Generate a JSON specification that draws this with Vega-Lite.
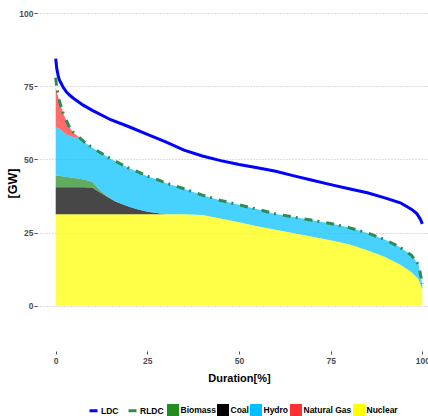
{
  "$schema": "https://vega.github.io/schema/vega-lite/v6.json",
  "width": 391,
  "height": 341,
  "autosize": {"type": "none"},
  "padding": {"left": 37, "top": 10, "right": 0, "bottom": 65},
  "background": "white",
  "config": {
    "view": {"stroke": null},
    "font": "Liberation Sans",
    "axis": {
      "domain": false,
      "labelFont": "Liberation Sans",
      "labelFontWeight": "bold",
      "labelFontSize": 8.5,
      "labelColor": "#4d4d4d",
      "tickColor": "#4d4d4d",
      "tickSize": 3,
      "titleFont": "Liberation Sans",
      "titleFontWeight": "bold",
      "titleColor": "black"
    },
    "legend": {
      "labelFont": "Liberation Sans",
      "labelFontWeight": "bold",
      "labelFontSize": 8.5,
      "labelColor": "black"
    }
  },
  "datasets": {
    "gen": [
      {"x": 0, "Nuclear": 31.3, "Coal": 9.2, "Biomass": 4.0, "Hydro": 16.5, "Natural Gas": 13.5},
      {"x": 1, "Nuclear": 31.3, "Coal": 9.2, "Biomass": 3.9, "Hydro": 16.1, "Natural Gas": 9.5},
      {"x": 2, "Nuclear": 31.3, "Coal": 9.2, "Biomass": 3.7, "Hydro": 15.3, "Natural Gas": 6.5},
      {"x": 3, "Nuclear": 31.3, "Coal": 9.2, "Biomass": 3.5, "Hydro": 14.5, "Natural Gas": 4.5},
      {"x": 4, "Nuclear": 31.3, "Coal": 9.2, "Biomass": 3.3, "Hydro": 14.2, "Natural Gas": 2.5},
      {"x": 5, "Nuclear": 31.3, "Coal": 9.2, "Biomass": 3.2, "Hydro": 13.8, "Natural Gas": 1.5},
      {"x": 6, "Nuclear": 31.3, "Coal": 9.2, "Biomass": 3.0, "Hydro": 14.0, "Natural Gas": 0.5},
      {"x": 8, "Nuclear": 31.3, "Coal": 9.2, "Biomass": 2.6, "Hydro": 12.7, "Natural Gas": 0},
      {"x": 10, "Nuclear": 31.3, "Coal": 9.0, "Biomass": 2.0, "Hydro": 11.7, "Natural Gas": 0},
      {"x": 12, "Nuclear": 31.3, "Coal": 7.5, "Biomass": 0.8, "Hydro": 12.9, "Natural Gas": 0},
      {"x": 14, "Nuclear": 31.3, "Coal": 6.0, "Biomass": 0.2, "Hydro": 13.5, "Natural Gas": 0},
      {"x": 16, "Nuclear": 31.3, "Coal": 4.5, "Biomass": 0, "Hydro": 13.8, "Natural Gas": 0},
      {"x": 18, "Nuclear": 31.3, "Coal": 3.5, "Biomass": 0, "Hydro": 13.5, "Natural Gas": 0},
      {"x": 20, "Nuclear": 31.3, "Coal": 2.5, "Biomass": 0, "Hydro": 13.2, "Natural Gas": 0},
      {"x": 22, "Nuclear": 31.3, "Coal": 1.8, "Biomass": 0, "Hydro": 12.9, "Natural Gas": 0},
      {"x": 25, "Nuclear": 31.3, "Coal": 0.8, "Biomass": 0, "Hydro": 12.2, "Natural Gas": 0},
      {"x": 28, "Nuclear": 31.3, "Coal": 0.3, "Biomass": 0, "Hydro": 11.4, "Natural Gas": 0},
      {"x": 30, "Nuclear": 31.3, "Coal": 0, "Biomass": 0, "Hydro": 10.7, "Natural Gas": 0},
      {"x": 35, "Nuclear": 31.3, "Coal": 0, "Biomass": 0, "Hydro": 8.7, "Natural Gas": 0},
      {"x": 40, "Nuclear": 31.0, "Coal": 0, "Biomass": 0, "Hydro": 6.8, "Natural Gas": 0},
      {"x": 45, "Nuclear": 29.8, "Coal": 0, "Biomass": 0, "Hydro": 6.2, "Natural Gas": 0},
      {"x": 50, "Nuclear": 28.5, "Coal": 0, "Biomass": 0, "Hydro": 6.0, "Natural Gas": 0},
      {"x": 55, "Nuclear": 27.2, "Coal": 0, "Biomass": 0, "Hydro": 5.8, "Natural Gas": 0},
      {"x": 60, "Nuclear": 26.0, "Coal": 0, "Biomass": 0, "Hydro": 5.4, "Natural Gas": 0},
      {"x": 65, "Nuclear": 24.8, "Coal": 0, "Biomass": 0, "Hydro": 5.5, "Natural Gas": 0},
      {"x": 70, "Nuclear": 23.6, "Coal": 0, "Biomass": 0, "Hydro": 5.6, "Natural Gas": 0},
      {"x": 75, "Nuclear": 22.4, "Coal": 0, "Biomass": 0, "Hydro": 5.7, "Natural Gas": 0},
      {"x": 80, "Nuclear": 21.0, "Coal": 0, "Biomass": 0, "Hydro": 5.7, "Natural Gas": 0},
      {"x": 85, "Nuclear": 19.0, "Coal": 0, "Biomass": 0, "Hydro": 5.9, "Natural Gas": 0},
      {"x": 90, "Nuclear": 16.6, "Coal": 0, "Biomass": 0, "Hydro": 5.9, "Natural Gas": 0},
      {"x": 94, "Nuclear": 14.0, "Coal": 0, "Biomass": 0, "Hydro": 5.9, "Natural Gas": 0},
      {"x": 97, "Nuclear": 11.5, "Coal": 0, "Biomass": 0, "Hydro": 5.8, "Natural Gas": 0},
      {"x": 99, "Nuclear": 9.0, "Coal": 0, "Biomass": 0, "Hydro": 5.0, "Natural Gas": 0},
      {"x": 100, "Nuclear": 5.5, "Coal": 0, "Biomass": 0, "Hydro": 1.5, "Natural Gas": 0}
    ],
    "ldc": [
      {"s": "LDC", "x": 0, "gw": 84.5}, {"s": "LDC", "x": 0.3, "gw": 81}, {"s": "LDC", "x": 0.7, "gw": 78.5},
      {"s": "LDC", "x": 1, "gw": 77.2}, {"s": "LDC", "x": 2, "gw": 74.8}, {"s": "LDC", "x": 3, "gw": 73},
      {"s": "LDC", "x": 4, "gw": 71.8}, {"s": "LDC", "x": 5, "gw": 70.8}, {"s": "LDC", "x": 7.5, "gw": 68.6},
      {"s": "LDC", "x": 10, "gw": 66.8}, {"s": "LDC", "x": 15, "gw": 63.6}, {"s": "LDC", "x": 20, "gw": 61.2},
      {"s": "LDC", "x": 25, "gw": 58.6}, {"s": "LDC", "x": 30, "gw": 56}, {"s": "LDC", "x": 35, "gw": 53.2},
      {"s": "LDC", "x": 40, "gw": 51.2}, {"s": "LDC", "x": 45, "gw": 49.6}, {"s": "LDC", "x": 50, "gw": 48.3},
      {"s": "LDC", "x": 55, "gw": 47.2}, {"s": "LDC", "x": 60, "gw": 46}, {"s": "LDC", "x": 65, "gw": 44.4},
      {"s": "LDC", "x": 70, "gw": 42.9}, {"s": "LDC", "x": 75, "gw": 41.4}, {"s": "LDC", "x": 80, "gw": 40},
      {"s": "LDC", "x": 85, "gw": 38.6}, {"s": "LDC", "x": 90, "gw": 36.8}, {"s": "LDC", "x": 94, "gw": 35.2},
      {"s": "LDC", "x": 97, "gw": 33}, {"s": "LDC", "x": 98.5, "gw": 31.5}, {"s": "LDC", "x": 99.5, "gw": 29.5},
      {"s": "LDC", "x": 100, "gw": 28}
    ],
    "rldc": [
      {"s": "RLDC", "x": 0, "gw": 78}, {"s": "RLDC", "x": 0.3, "gw": 74.5}, {"s": "RLDC", "x": 1, "gw": 70},
      {"s": "RLDC", "x": 2, "gw": 66}, {"s": "RLDC", "x": 3, "gw": 63}, {"s": "RLDC", "x": 4, "gw": 60.5},
      {"s": "RLDC", "x": 5, "gw": 59}, {"s": "RLDC", "x": 6, "gw": 58}, {"s": "RLDC", "x": 8, "gw": 55.8},
      {"s": "RLDC", "x": 10, "gw": 54}, {"s": "RLDC", "x": 12, "gw": 52.5}, {"s": "RLDC", "x": 14, "gw": 51},
      {"s": "RLDC", "x": 16, "gw": 49.6}, {"s": "RLDC", "x": 18, "gw": 48.3}, {"s": "RLDC", "x": 20, "gw": 47},
      {"s": "RLDC", "x": 22, "gw": 46}, {"s": "RLDC", "x": 25, "gw": 44.3}, {"s": "RLDC", "x": 28, "gw": 43},
      {"s": "RLDC", "x": 30, "gw": 42}, {"s": "RLDC", "x": 35, "gw": 40}, {"s": "RLDC", "x": 40, "gw": 37.8},
      {"s": "RLDC", "x": 45, "gw": 36}, {"s": "RLDC", "x": 50, "gw": 34.5}, {"s": "RLDC", "x": 55, "gw": 33},
      {"s": "RLDC", "x": 60, "gw": 31.4}, {"s": "RLDC", "x": 65, "gw": 30.3}, {"s": "RLDC", "x": 70, "gw": 29.2},
      {"s": "RLDC", "x": 75, "gw": 28.1}, {"s": "RLDC", "x": 80, "gw": 26.7}, {"s": "RLDC", "x": 85, "gw": 24.9},
      {"s": "RLDC", "x": 90, "gw": 22.5}, {"s": "RLDC", "x": 94, "gw": 19.9}, {"s": "RLDC", "x": 97, "gw": 17.3},
      {"s": "RLDC", "x": 99, "gw": 14}, {"s": "RLDC", "x": 100, "gw": 7.5}
    ]
  },
  "layer": [
    {
      "data": {"name": "gen"},
      "transform": [
        {"fold": ["Nuclear", "Coal", "Biomass", "Hydro", "Natural Gas"], "as": ["tech", "gw"]},
        {"calculate": "indexof(['Nuclear','Coal','Biomass','Hydro','Natural Gas'], datum.tech)", "as": "ord"}
      ],
      "mark": {"type": "area", "opacity": 0.72, "interpolate": "linear"},
      "encoding": {
        "x": {
          "field": "x", "type": "quantitative",
          "scale": {"domain": [-5.1, 101.55], "nice": false, "zero": false},
          "axis": {
            "title": "Duration[%]", "values": [0, 25, 50, 75, 100], "grid": false,
            "labelPadding": 2, "titleFontSize": 11, "titleX": 202, "titleY": 27,
            "titleAlign": "center", "titleBaseline": "middle"
          }
        },
        "y": {
          "field": "gw", "type": "quantitative", "stack": "zero",
          "scale": {"domain": [-15.5, 101.13], "nice": false, "zero": false},
          "axis": {
            "title": "[GW]", "values": [0, 25, 50, 75, 100], "grid": true,
            "gridDash": [1, 2], "gridColor": "#bdbdbd", "gridWidth": 1,
            "labelPadding": 1, "titleFontSize": 12.5, "titleX": -24.5, "titleY": 173, "titleAngle": -90,
            "titleAlign": "center", "titleBaseline": "middle"
          }
        },
        "fill": {
          "field": "tech", "type": "nominal",
          "scale": {
            "domain": ["Biomass", "Coal", "Hydro", "Natural Gas", "Nuclear"],
            "range": ["#228B22", "#000000", "#00BFFF", "#FF3030", "#FFFF00"]
          },
          "legend": {
            "title": null, "orient": "none", "legendX": 130, "legendY": 394,
            "direction": "horizontal", "symbolType": "square", "symbolSize": 144,
            "symbolOpacity": 1, "symbolStrokeWidth": 0, "columnPadding": 1, "labelOffset": 1.5
          }
        },
        "order": {"field": "ord", "type": "quantitative"}
      }
    },
    {
      "data": {"name": "ldc"},
      "mark": {"type": "line", "strokeWidth": 3},
      "encoding": {
        "x": {"field": "x", "type": "quantitative"},
        "y": {"field": "gw", "type": "quantitative"},
        "stroke": {
          "field": "s", "type": "nominal",
          "scale": {"domain": ["LDC", "RLDC"], "range": ["#0000FF", "#2E8B57"]},
          "legend": {
            "title": null, "orient": "none", "legendX": 51, "legendY": 395,
            "direction": "horizontal", "symbolType": "stroke", "symbolSize": 64,
            "symbolStrokeWidth": 3, "columnPadding": 3, "labelOffset": 2
          }
        }
      }
    },
    {
      "data": {"name": "rldc"},
      "mark": {"type": "line", "strokeWidth": 3, "strokeDash": [8, 5, 2, 7], "color": "#2E8B57"},
      "encoding": {
        "x": {"field": "x", "type": "quantitative"},
        "y": {"field": "gw", "type": "quantitative"}
      }
    }
  ]
}
